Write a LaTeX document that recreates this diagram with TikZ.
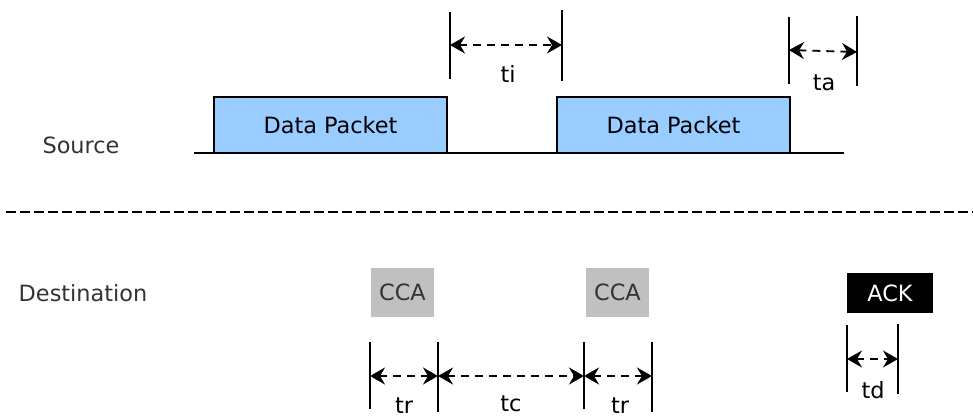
\documentclass[tikz,border=0pt]{standalone}
\usepackage{fontspec}
\setmainfont{DejaVu Sans}
\usetikzlibrary{arrows.meta, positioning}
\definecolor{azulpaquete}{HTML}{99CCFF}
\definecolor{gristexto}{HTML}{333333}
\definecolor{griscca}{HTML}{C0C0C0}
\tikzstyle{texto} = [font=\fontsize{22.4}{27}\selectfont, inner sep=0pt]
\tikzstyle{paquete} = [texto, draw=black, fill=azulpaquete, line width=1.8pt, rectangle, minimum width=233pt, minimum height=56pt]
\tikzstyle{cca} = [texto, fill=griscca, text=gristexto, rectangle, minimum width=63pt, minimum height=49pt]
\tikzstyle{ack} = [texto, fill=black, text=white, rectangle, minimum width=86pt, minimum height=40pt]
\tikzstyle{lado} = [texto, text=gristexto]
\tikzstyle{marca} = [line width=1.8pt]
\tikzstyle{cota} = [line width=1.8pt, dash pattern=on 8pt off 6pt, {Stealth[length=15pt,width=17pt,inset=5pt]}-{Stealth[length=15pt,width=17pt,inset=5pt]}]

\begin{document}
\begin{tikzpicture}[x=1pt, y=-1pt]
	\useasboundingbox (0,0) rectangle (973,416);
	% emisor
	\node [lado] (source) at (81,145) {Source};
	\coordinate (ejeA) at (194,153);
	\coordinate (ejeB) at (844,153);
	\draw [marca] (ejeA) -- (ejeB);
	\node [paquete] (paq1) at (330.5,125) {Data Packet};
	\node [paquete] (paq2) at (673.5,125) {Data Packet};
	% ti
	\coordinate (ti1a) at (450,12);  \coordinate (ti1b) at (450,79);
	\coordinate (ti2a) at (562,10);  \coordinate (ti2b) at (562,81);
	\draw [marca] (ti1a) -- (ti1b);
	\draw [marca] (ti2a) -- (ti2b);
	\coordinate (tiI) at (450,45);  \coordinate (tiD) at (562,45);
	\draw [cota] (tiI) -- (tiD);
	\node [texto] (ti) at (508,74) {ti};
	% ta
	\coordinate (ta1a) at (789,17);  \coordinate (ta1b) at (789,84);
	\coordinate (ta2a) at (857,16);  \coordinate (ta2b) at (857,86);
	\draw [marca] (ta1a) -- (ta1b);
	\draw [marca] (ta2a) -- (ta2b);
	\coordinate (taI) at (789,50);  \coordinate (taD) at (857,52);
	\draw [cota] (taI) -- (taD);
	\node [texto] (ta) at (824,83) {ta};
	% separador
	\coordinate (sepA) at (6,212);
	\coordinate (sepB) at (973,212);
	\draw [line width=1.8pt, dash pattern=on 10pt off 4pt] (sepA) -- (sepB);
	% receptor
	\node [lado] (destination) at (83,293) {Destination};
	\node [cca] (cca1) at (402.5,292.5) {CCA};
	\node [cca] (cca2) at (617.5,292.5) {CCA};
	\node [ack] (ack) at (890,293) {ACK};
	% tr, tc, tr
	\coordinate (tr1a) at (370,342);  \coordinate (tr1b) at (370,409);
	\coordinate (tr2a) at (438,342);  \coordinate (tr2b) at (438,412);
	\coordinate (tr3a) at (584,342);  \coordinate (tr3b) at (584,409);
	\coordinate (tr4a) at (652,342);  \coordinate (tr4b) at (652,412);
	\draw [marca] (tr1a) -- (tr1b);
	\draw [marca] (tr2a) -- (tr2b);
	\draw [marca] (tr3a) -- (tr3b);
	\draw [marca] (tr4a) -- (tr4b);
	\coordinate (c1) at (370,376);  \coordinate (c2) at (438,376);
	\coordinate (c3) at (584,376);  \coordinate (c4) at (652,376);
	\draw [cota] (c1) -- (c2);
	\draw [cota] (c2) -- (c3);
	\draw [cota] (c3) -- (c4);
	\node [texto] (tr1) at (404,406) {tr};
	\node [texto] (tc) at (511,404) {tc};
	\node [texto] (tr2) at (620,406) {tr};
	% td
	\coordinate (td1a) at (847,325);  \coordinate (td1b) at (847,392);
	\coordinate (td2a) at (898,324);  \coordinate (td2b) at (898,394);
	\draw [marca] (td1a) -- (td1b);
	\draw [marca] (td2a) -- (td2b);
	\coordinate (tdI) at (847,359);  \coordinate (tdD) at (898,359);
	\draw [cota] (tdI) -- (tdD);
	\node [texto] (td) at (873,390) {td};
\end{tikzpicture}
\end{document}
